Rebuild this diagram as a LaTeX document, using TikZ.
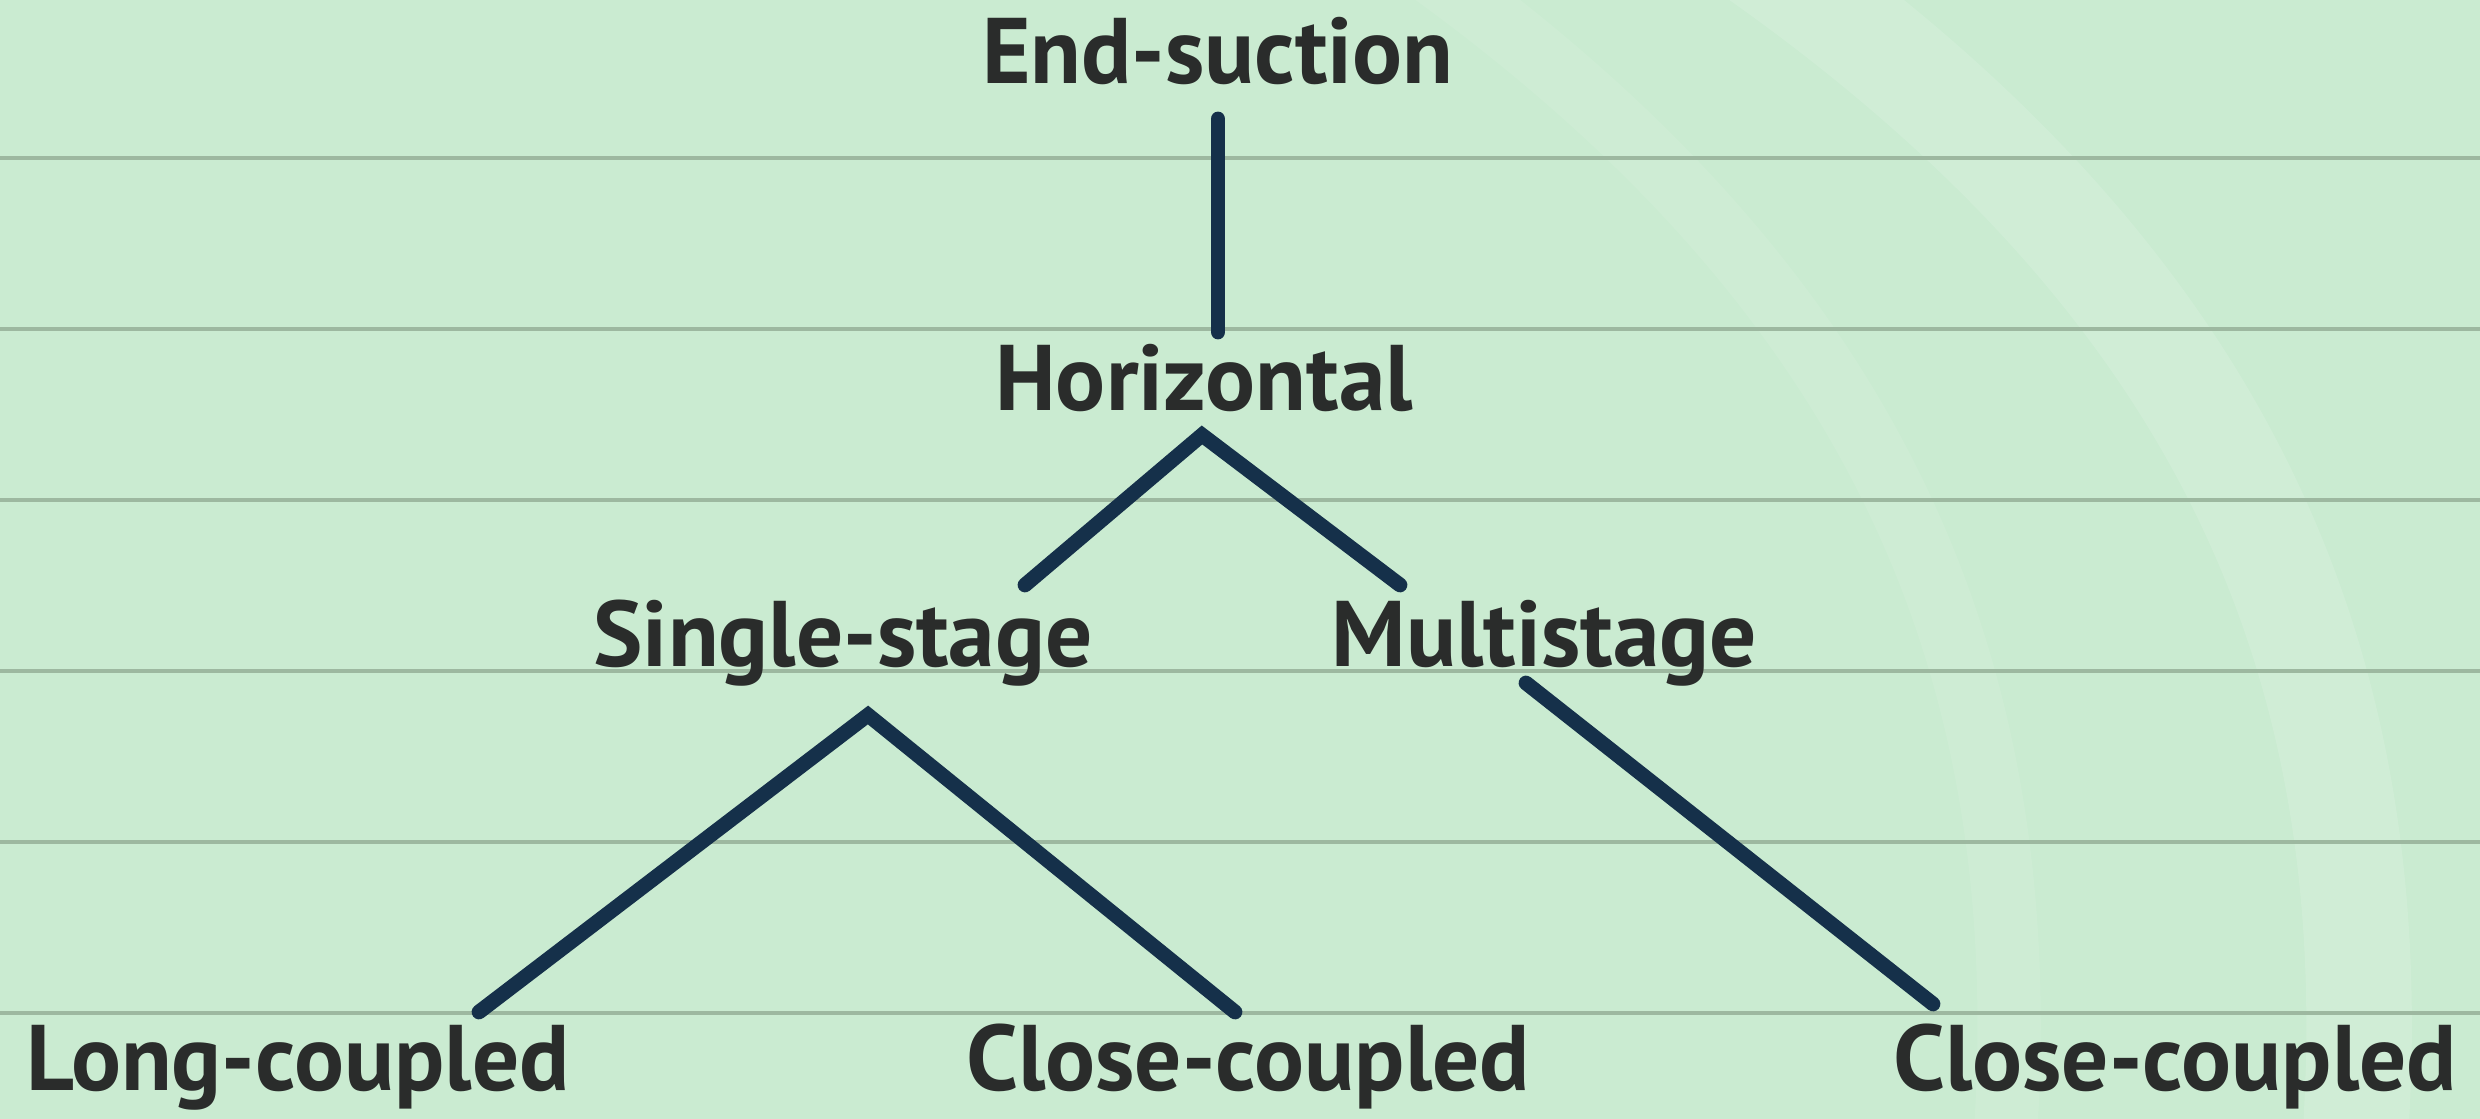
\documentclass[tikz,border=0pt]{standalone}
\usepackage{fontspec}
\setmainfont{PT Sans}
\definecolor{bg}{HTML}{CAEBD1}
\definecolor{rule}{HTML}{9DB8A0}
\definecolor{ink}{HTML}{15304A}
\definecolor{txt}{HTML}{2A2C2B}
\begin{document}
\begin{tikzpicture}[x=0.01cm,y=-0.01cm,
  lbl/.style={font=\fontsize{26.5}{30}\selectfont\bfseries, text=txt, anchor=base, inner sep=0pt},
  branch/.style={draw=ink, line width=4.2pt, line cap=round, line join=miter}]
\fill[bg] (0,0) rectangle (2480,1119);
\useasboundingbox (0,0) rectangle (2480,1119);
% faint watermark bands
\begin{scope}
\clip (0,0) rectangle (2480,1119);
\draw[white, opacity=0.12, line width=30pt] (1750,-50) .. controls (2250,300) and (2400,700) .. (2350,1200);
\draw[white, opacity=0.08, line width=18pt] (1400,-50) .. controls (1900,300) and (2050,700) .. (2000,1200);
\end{scope}
% ruled lines
\foreach \yy in {158,329,500,671,842,1013}
  \draw[rule, line width=1.1pt] (0,\yy) -- (2480,\yy);
% labels
\node[lbl] (es) at (1218,84) {End-suction};
\node[lbl] (hz) at (1204,411) {Horizontal};
\node[lbl] (ss) at (843,667) {Single-stage};
\node[lbl] (ms) at (1544,667) {Multistage};
\node[lbl] (lc) at (298,1091) {Long-coupled};
\node[lbl] (cc1) at (1248,1091) {Close-coupled};
\node[lbl] (cc2) at (2175,1091) {Close-coupled};
% connector points
\coordinate (esB) at (1218,119);
\coordinate (hzT) at (1218,332);
\coordinate (hzA) at (1202,435);
\coordinate (ssT) at (1025,585);
\coordinate (msT) at (1400,585);
\coordinate (ssA) at (868,715);
\coordinate (lcT) at (479,1012);
\coordinate (cc1T) at (1235,1012);
\coordinate (msB) at (1526,683);
\coordinate (cc2T) at (1933,1004);
\draw[branch] (esB) -- (hzT);
\draw[branch] (ssT) -- (hzA) -- (msT);
\draw[branch] (lcT) -- (ssA) -- (cc1T);
\draw[branch] (msB) -- (cc2T);
\end{tikzpicture}
\end{document}
